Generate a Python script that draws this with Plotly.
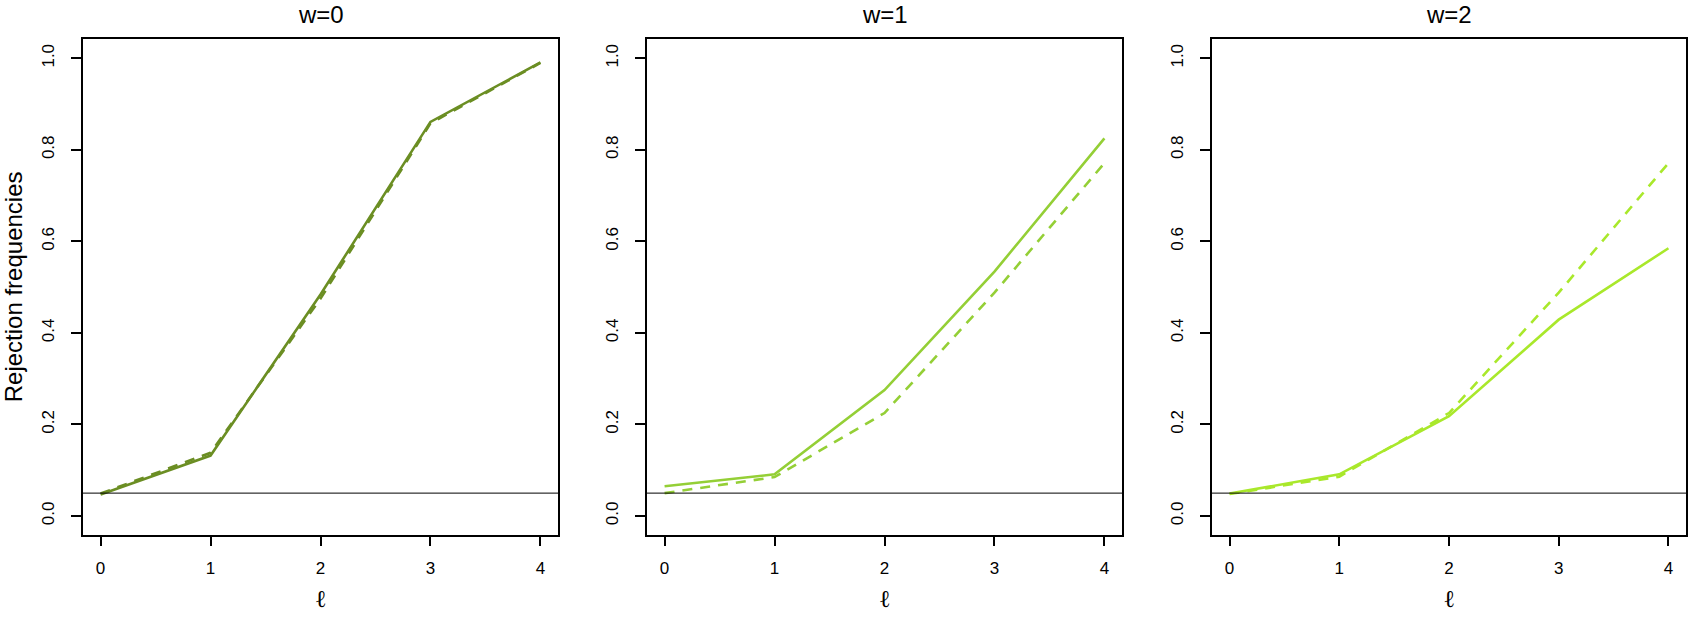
import plotly.graph_objects as go
from plotly.subplots import make_subplots

# ---- data ----
ell = [0, 1, 2, 3, 4]
panel_titles = ["w=0", "w=1", "w=2"]
w0_solid = [0.047, 0.132, 0.484, 0.861, 0.991]
w0_dashed = [0.049, 0.138, 0.475, 0.858, 0.990]
w1_solid = [0.065, 0.091, 0.275, 0.534, 0.825]
w1_dashed = [0.050, 0.085, 0.225, 0.488, 0.771]
w2_solid = [0.049, 0.091, 0.218, 0.429, 0.585]
w2_dashed = [0.048, 0.086, 0.225, 0.488, 0.771]
nominal_level = 0.05
x_ticks = [0, 1, 2, 3, 4]
y_ticks = [0.0, 0.2, 0.4, 0.6, 0.8, 1.0]
y_ticklabels = ["0.0", "0.2", "0.4", "0.6", "0.8", "1.0"]

colors = ["#6B8E23", "#94CF36", "#A9E82B"]
solids = [w0_solid, w1_solid, w2_solid]
dashes = [w0_dashed, w1_dashed, w2_dashed]

W, H = 1697, 620
x_domains = [(83 / W, 558 / W), (647 / W, 1122 / W), (1212 / W, 1686 / W)]
y_domain = (1 - 534.5 / H, 1 - 39.3 / H)

fig = make_subplots(rows=1, cols=3)
FONT = "Liberation Sans, Arial, sans-serif"

for i in range(3):
    c = i + 1
    fig.add_trace(go.Scatter(x=ell, y=dashes[i], mode="lines",
                             line=dict(color=colors[i], width=2.6, dash="10px,8px"),
                             showlegend=False), row=1, col=c)
    fig.add_trace(go.Scatter(x=ell, y=solids[i], mode="lines",
                             line=dict(color=colors[i], width=2.6),
                             showlegend=False), row=1, col=c)
    fig.add_hline(y=nominal_level, line=dict(color="black", width=1), row=1, col=c)

    xa = "xaxis" if c == 1 else f"xaxis{c}"
    ya = "yaxis" if c == 1 else f"yaxis{c}"
    fig.layout[xa].update(
        domain=list(x_domains[i]), range=[-0.16, 4.16],
        tickmode="array", tickvals=x_ticks, ticktext=[str(v) for v in x_ticks],
        ticks="outside", ticklen=10, tickwidth=1.5, tickcolor="black",
        showline=True, linecolor="black", linewidth=1.5, mirror=True,
        showgrid=False, zeroline=False,
        tickfont=dict(family=FONT, size=17, color="black"),
        ticklabelstandoff=7,
        title=dict(text="ℓ", font=dict(family="DejaVu Serif, serif", size=24, color="black"),
                   standoff=14),
    )
    fig.layout[ya].update(
        domain=list(y_domain), range=[-0.0404, 1.0415],
        tickmode="array", tickvals=y_ticks, ticktext=y_ticklabels,
        ticks="outside", ticklen=10, tickwidth=1.5, tickcolor="black",
        showline=True, linecolor="black", linewidth=1.5, mirror=True,
        showgrid=False, zeroline=False, tickangle=-90,
        tickfont=dict(family=FONT, size=17, color="black"),
        ticklabelstandoff=10,
    )
    xc = (x_domains[i][0] + x_domains[i][1]) / 2
    fig.add_annotation(text=panel_titles[i], xref="paper", yref="paper",
                       x=xc, y=1 - 14 / H, xanchor="center", yanchor="middle",
                       showarrow=False, font=dict(family=FONT, size=24, color="black"))

fig.layout.yaxis.title = dict(text="Rejection frequencies",
                              font=dict(family=FONT, size=24, color="black"), standoff=12)

fig.update_layout(width=W, height=H, margin=dict(l=0, r=0, t=0, b=0),
                  paper_bgcolor="white", plot_bgcolor="white", showlegend=False)

fig.write_html("out.html")
